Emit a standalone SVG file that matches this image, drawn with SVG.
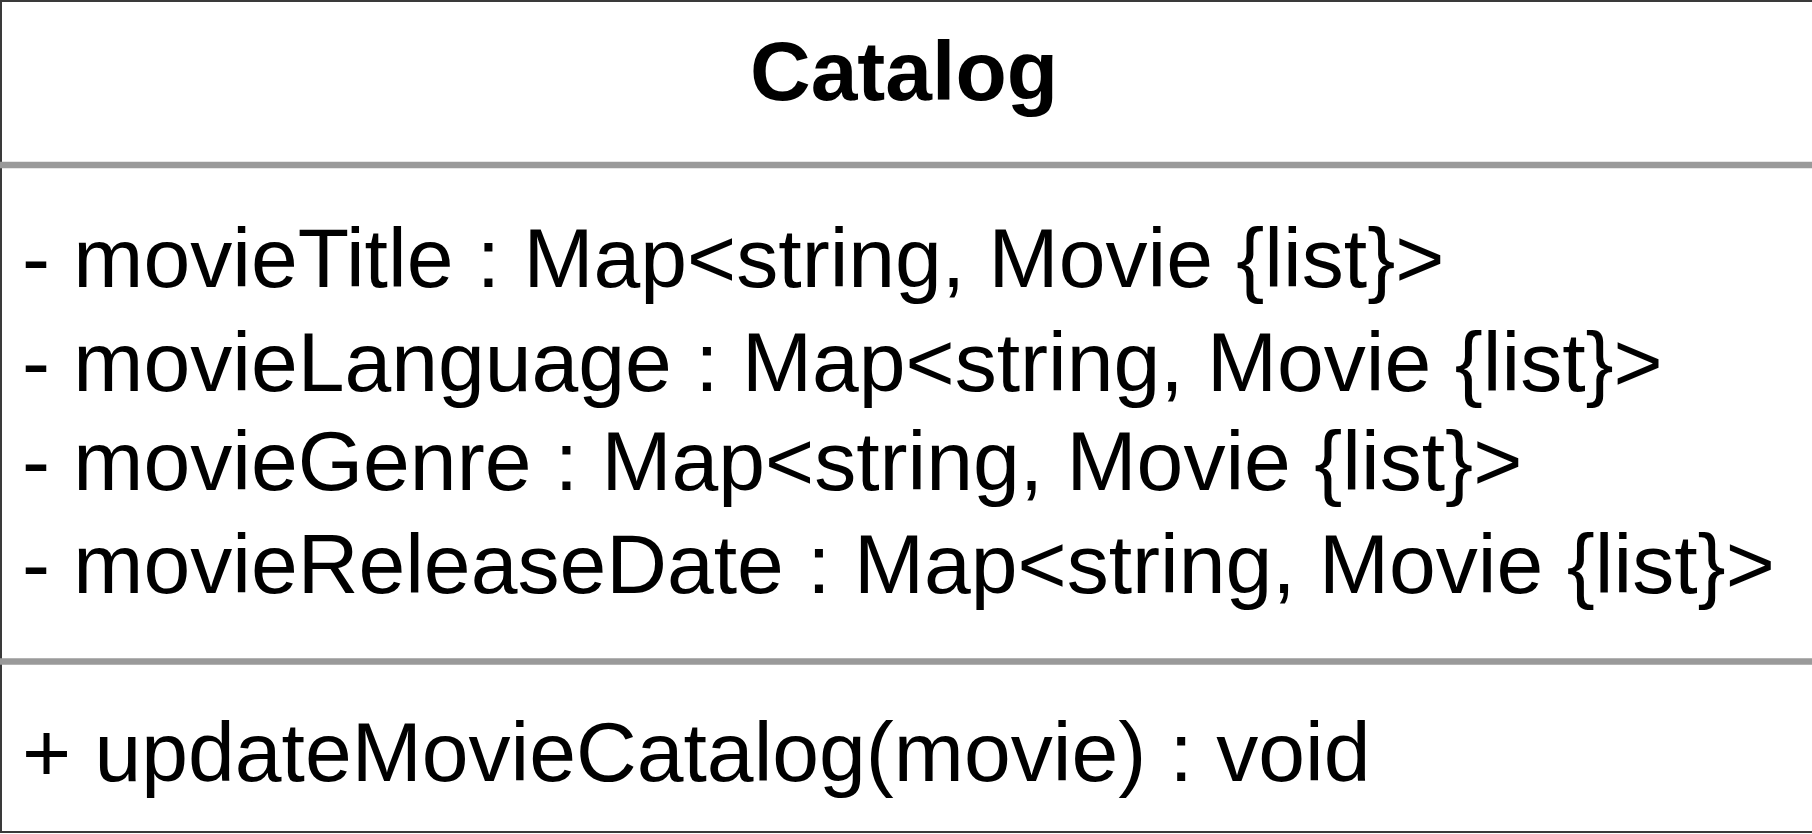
<svg xmlns="http://www.w3.org/2000/svg" width="1812" height="834" viewBox="0 0 1812 834">
  <style>
    .box { fill: #ffffff; stroke: #3a3a3a; stroke-width: 2; }
    .sep { stroke: #9a9a9a; stroke-width: 6.5; }
    .title { font-family: "Liberation Sans", Arial, sans-serif; font-weight: bold; font-size: 84px; fill: #000; }
    .member { font-family: "Liberation Sans", Arial, sans-serif; font-size: 84.1px; fill: #000; }
  </style>
  <rect width="1812" height="834" fill="#ffffff"/>
  <g id="Catalog">
    <rect class="box" x="1" y="1" width="1840" height="831"/>
    <text class="title" x="904" y="100" text-anchor="middle">Catalog</text>
    <line class="sep" x1="0" y1="165" x2="1812" y2="165"/>
    <text class="member" x="22" y="287">- movieTitle : Map&lt;string, Movie {list}&gt;</text>
    <text class="member" x="22" y="391">- movieLanguage : Map&lt;string, Movie {list}&gt;</text>
    <text class="member" x="22" y="490">- movieGenre : Map&lt;string, Movie {list}&gt;</text>
    <text class="member" x="22" y="593">- movieReleaseDate : Map&lt;string, Movie {list}&gt;</text>
    <line class="sep" x1="0" y1="661.5" x2="1812" y2="661.5"/>
    <text class="member" x="22" y="781">+ updateMovieCatalog(movie) : void</text>
  </g>
</svg>
